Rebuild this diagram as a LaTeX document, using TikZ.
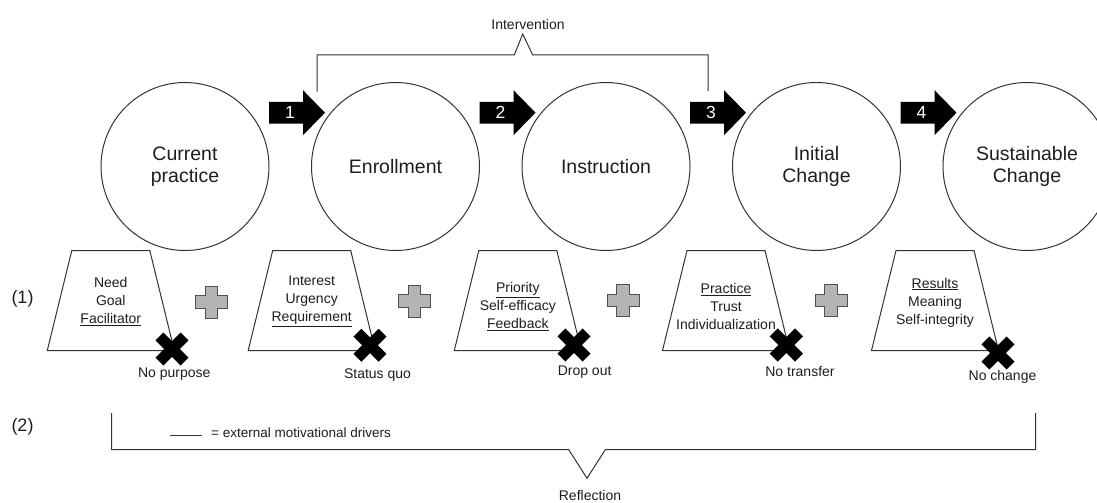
\documentclass[tikz,border=0pt]{standalone}
\usepackage{fontspec}
\setmainfont{Liberation Sans}
\definecolor{ln}{HTML}{333333}
\definecolor{txt}{HTML}{1E1E1E}
\definecolor{plusfill}{HTML}{B4B4B4}
\definecolor{plusdraw}{HTML}{505050}
\tikzset{
  stage/.style={circle, draw=ln, line width=1pt, minimum size=168pt, inner sep=0pt, align=center, text=txt, font=\fontsize{19.5}{22}\selectfont},
  trapline/.style={draw=ln, line width=1pt},
  traptext/.style={align=center, inner sep=0pt, text=txt, font=\fontsize{14}{18}\selectfont},
  lbl/.style={inner sep=0pt, text=txt, font=\fontsize{14}{16}\selectfont},
  biglbl/.style={inner sep=0pt, text=txt, font=\fontsize{18}{20}\selectfont},
  num/.style={inner sep=0pt, text=white, font=\fontsize{17.5}{17.5}\selectfont},
  bracket/.style={draw=ln, line width=1pt},
  plusshape/.style={fill=plusfill, draw=plusdraw, line width=0.9pt}
}
\begin{document}
\begin{tikzpicture}[x=1pt,y=-1pt]
\clip (0,0) rectangle (1097,503);
\fill[white] (0,0) rectangle (1097,503);

% stages
\node[stage] (c1) at (185,166.5) {Current\\practice};
\node[stage] (c2) at (395.5,166.5) {Enrollment};
\node[stage] (c3) at (606,166.5) {Instruction};
\node[stage] (c4) at (816.5,166.5) {Initial\\Change};
\node[stage] (c5) at (1027,166.5) {Sustainable\\Change};

% numbered block arrows
\foreach \i/\x in {1/269,2/479.5,3/690,4/900.5}{
  \fill[black] (\x,101.9) -- (\x+34,101.9) -- (\x+34,90.2) -- (\x+56,112.7)
     -- (\x+34,135.2) -- (\x+34,123.5) -- (\x,123.5) -- cycle;
  \node[num] (n\i) at (\x+21,112.7) {\i};
}

% intervention bracket
\draw[bracket] (317,91.5) -- (317,55) -- (514.3,55) -- (522.7,34) -- (532.7,55) -- (708,55) -- (708,91);
\node[lbl] (interv) at (528,24) {Intervention};

% trapezoids
\foreach \cx in {110.8,311.7,517.8,726,935}{
  \draw[trapline] (\cx-39,250.5) -- (\cx+39,250.5) -- (\cx+63.5,350.5) -- (\cx-63.5,350.5) -- cycle;
}
\node[traptext] (t1) at (110.8,301.5) {Need\\Goal\\\underline{Facilitator}};
\node[traptext] (t2) at (311.7,301.3) {Interest\\Urgency\\\underline{Requirement}};
\node[traptext] (t3) at (517.8,306.5) {\underline{Priority}\\Self-efficacy\\\underline{Feedback}};
\node[traptext] (t4) at (726,306.5) {\underline{Practice}\\Trust\\Individualization};
\node[traptext] (t5) at (935,302.5) {\underline{Results}\\Meaning\\Self-integrity};

% plus signs
\foreach \x/\y in {211.5/302,414.3/301,623/300.5,831/300.5}{
  \draw[plusshape] (\x-6.3,\y-16) -- (\x+6.3,\y-16) -- (\x+6.3,\y-6.3) -- (\x+16,\y-6.3)
     -- (\x+16,\y+6.3) -- (\x+6.3,\y+6.3) -- (\x+6.3,\y+16) -- (\x-6.3,\y+16)
     -- (\x-6.3,\y+6.3) -- (\x-16,\y+6.3) -- (\x-16,\y-6.3) -- (\x-6.3,\y-6.3) -- cycle;
}

% X marks
\foreach \x/\y in {172/349,370/345.3,574/345,786.4/345,998/353}{
  \begin{scope}[shift={(\x,\y)},rotate=45]
    \fill[black] (-5.6,-17.8) -- (5.6,-17.8) -- (5.6,-5.6) -- (17.8,-5.6) -- (17.8,5.6)
       -- (5.6,5.6) -- (5.6,17.8) -- (-5.6,17.8) -- (-5.6,5.6) -- (-17.8,5.6)
       -- (-17.8,-5.6) -- (-5.6,-5.6) -- cycle;
  \end{scope}
}

% outcome labels
\node[lbl] (o1) at (174.3,374.5) {No purpose};
\node[lbl] (o2) at (377.5,375) {Status quo};
\node[lbl] (o3) at (584.6,372.5) {Drop out};
\node[lbl] (o4) at (800,371) {No transfer};
\node[lbl] (o5) at (1002.5,377) {No change};

% row labels
\node[biglbl] (r1) at (22.5,298.5) {(1)};
\node[biglbl] (r2) at (22.5,427) {(2)};

% legend
\draw[ln, line width=0.8pt] (170,435) -- (201.7,435);
\node[lbl, anchor=west, font=\fontsize{13.5}{15}\selectfont] (legend) at (211,433) {= external motivational drivers};

% reflection bracket
\draw[bracket] (111.7,413) -- (111.7,449.5) -- (568.6,449.5) -- (587,478.3) -- (605.4,449.5) -- (1035.7,449.5) -- (1035.7,413);
\node[lbl] (refl) at (590,495.5) {Reflection};
\end{tikzpicture}
\end{document}
